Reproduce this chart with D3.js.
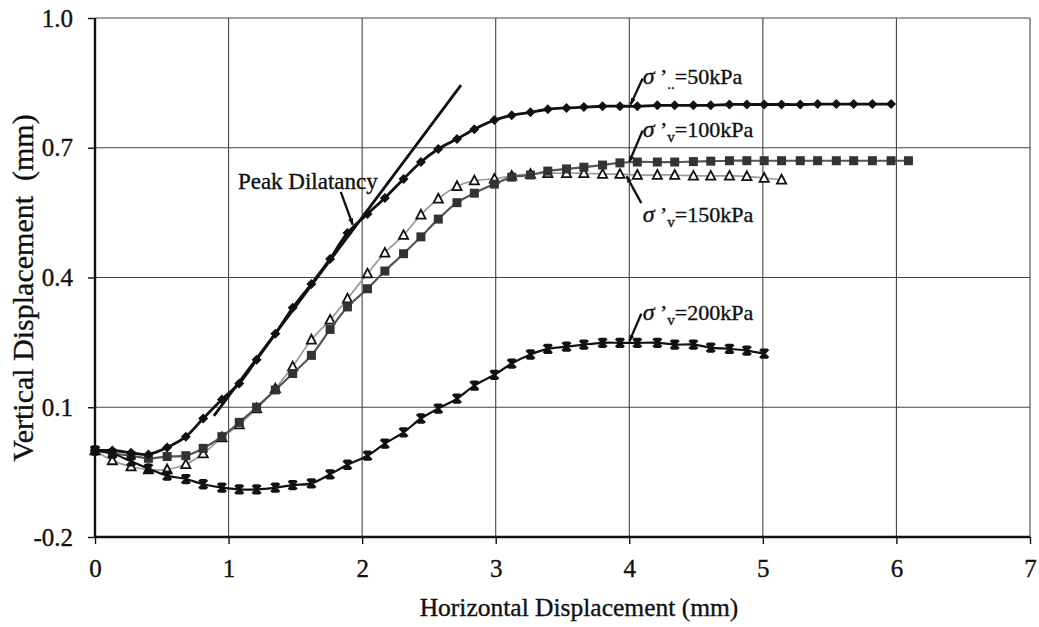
<!DOCTYPE html>
<html><head><meta charset="utf-8">
<script src="https://cdn.jsdelivr.net/npm/d3@7"></script>
<style>
body{margin:0;background:#fff}
text{font-family:"Liberation Serif","Times New Roman",serif;fill:#111;stroke:#111;stroke-width:0.35px}
</style>
</head><body>
<svg id="chart" width="1039" height="627"></svg>
<script>
// Horizontal displacement readings (mm), shared by all tests
const horizontalDisp = [0, 0.13, 0.27, 0.40, 0.54, 0.68, 0.81, 0.95, 1.08, 1.21, 1.35, 1.48, 1.62, 1.76, 1.89, 2.04,
  2.17, 2.31, 2.44, 2.57, 2.71, 2.84, 2.99, 3.12, 3.26, 3.39, 3.53, 3.66, 3.80, 3.93, 4.06, 4.21, 4.34, 4.48, 4.61,
  4.75, 4.88, 5.01, 5.14, 5.28, 5.41, 5.55, 5.68, 5.82, 5.96, 6.09];

// Vertical displacement (mm) for each normal stress
const vert50 = [0, 0, -0.005, -0.009, 0.007, 0.032, 0.074, 0.118, 0.155, 0.21, 0.27, 0.33, 0.385, 0.443, 0.503,
  0.547, 0.584, 0.628, 0.667, 0.697, 0.72, 0.743, 0.764, 0.775, 0.782, 0.789, 0.792, 0.794, 0.796, 0.796, 0.796,
  0.798, 0.798, 0.798, 0.798, 0.8, 0.8, 0.8, 0.8, 0.8, 0.801, 0.801, 0.801, 0.801, 0.801];
const vert100 = [0, -0.007, -0.012, -0.018, -0.014, -0.012, 0.005, 0.032, 0.065, 0.1, 0.14, 0.178, 0.22, 0.28,
  0.332, 0.374, 0.415, 0.455, 0.494, 0.535, 0.573, 0.595, 0.616, 0.632, 0.637, 0.646, 0.651, 0.655, 0.66, 0.665,
  0.667, 0.667, 0.667, 0.668, 0.669, 0.67, 0.67, 0.67, 0.67, 0.67, 0.67, 0.67, 0.67, 0.67, 0.67, 0.67];
const vert150 = [0, -0.023, -0.037, -0.044, -0.044, -0.032, -0.007, 0.03, 0.06, 0.097, 0.143, 0.194, 0.256, 0.302,
  0.351, 0.409, 0.457, 0.498, 0.545, 0.582, 0.611, 0.624, 0.628, 0.635, 0.639, 0.641, 0.641, 0.641, 0.639, 0.639,
  0.637, 0.637, 0.637, 0.635, 0.635, 0.635, 0.634, 0.630, 0.626];
const vert200 = [0, -0.007, -0.025, -0.042, -0.058, -0.066, -0.078, -0.086, -0.09, -0.09, -0.086, -0.08, -0.076,
  -0.055, -0.033, -0.012, 0.016, 0.042, 0.074, 0.097, 0.12, 0.15, 0.175, 0.201, 0.222, 0.235, 0.24, 0.245, 0.249,
  0.249, 0.249, 0.249, 0.245, 0.245, 0.238, 0.235, 0.231, 0.224];

const xTicks = [0, 1, 2, 3, 4, 5, 6, 7];
const yTicks = [-0.2, 0.1, 0.4, 0.7, 1.0];
const yTickLabels = ["-0.2", "0.1", "0.4", "0.7", "1.0"];

// Tangent drawn at the peak dilatancy point of the 50 kPa test
const tangentLine = [[0.89, 0.08], [2.74, 0.845]];

const svg = d3.select("#chart");
const x = d3.scaleLinear().domain([0, 7]).range([95, 1030]);
const y = d3.scaleLinear().domain([-0.2, 1.0]).range([537, 18]);

// Gridlines
const grid = svg.append("g").attr("stroke", "#444").attr("stroke-width", 1.1);
grid.selectAll("line.v").data(xTicks.slice(1)).join("line")
  .attr("x1", d => x(d)).attr("x2", d => x(d)).attr("y1", y(1.0)).attr("y2", y(-0.2));
grid.selectAll("line.h").data(yTicks.slice(1)).join("line")
  .attr("x1", x(0)).attr("x2", x(7)).attr("y1", d => y(d)).attr("y2", d => y(d));

// Axes
const xAxis = d3.axisBottom(x).tickValues(xTicks).tickSize(7).tickPadding(15).tickFormat(d3.format("d"));
const yAxis = d3.axisLeft(y).tickValues(yTicks).tickSize(7).tickPadding(15)
  .tickFormat((d, i) => yTickLabels[i]);

const gx = svg.append("g").attr("transform", `translate(0,${y(-0.2)})`).call(xAxis);
const gy = svg.append("g").attr("transform", `translate(${x(0)},0)`).call(yAxis);
[gx, gy].forEach(g => {
  g.select(".domain").attr("stroke", "#111").attr("stroke-width", 2.4);
  g.selectAll(".tick line").attr("stroke", "#111").attr("stroke-width", 1.4);
  g.selectAll(".tick text").attr("font-family", "Liberation Serif").attr("font-size", 25).attr("fill", "#111");
});
gy.select(".domain").attr("d", `M0,${y(1.0)}V${y(-0.2)}`);
gx.select(".domain").attr("d", `M${x(0)},0H${x(7)}`);

// Axis titles
svg.append("text").attr("x", 579).attr("y", 616).attr("text-anchor", "middle")
  .attr("font-size", 25.5).text("Horizontal Displacement (mm)");
svg.append("text").attr("transform", "translate(33,288) rotate(-90)").attr("text-anchor", "middle")
  .attr("font-size", 30).attr("xml:space", "preserve").text("Vertical Displacement  (mm)");

const line = d3.line().x(d => x(d[0])).y(d => y(d[1])).curve(d3.curveCatmullRom.alpha(0.5));
const pts = vals => vals.map((v, i) => [horizontalDisp[i], v]);

const series = [
  { vals: vert150, stroke: "#9a9a9a", width: 1.7, marker: "tri" },
  { vals: vert100, stroke: "#555", width: 2.2, marker: "sq" },
  { vals: vert200, stroke: "#111", width: 2.2, marker: "star" },
  { vals: vert50, stroke: "#111", width: 2.8, marker: "dia" }
];

const plot = svg.append("g");
series.forEach(s => {
  const p = pts(s.vals);
  plot.append("path").attr("d", line(p)).attr("fill", "none")
    .attr("stroke", s.stroke).attr("stroke-width", s.width);
  const g = plot.append("g");
  const m = g.selectAll("g").data(p).join("g")
    .attr("transform", d => `translate(${x(d[0])},${y(d[1])})`);
  if (s.marker === "dia") {
    m.append("path").attr("d", "M0,-5L5,0L0,5L-5,0Z").attr("fill", "#111");
  } else if (s.marker === "sq") {
    m.append("rect").attr("x", -4.5).attr("y", -4.5).attr("width", 9).attr("height", 9).attr("fill", "#333");
  } else if (s.marker === "tri") {
    m.append("path").attr("d", "M0,-5L4.6,3.8L-4.6,3.8Z").attr("fill", "#fff")
      .attr("stroke", "#111").attr("stroke-width", 1.8);
  } else {
    m.append("path").attr("d", "M-4.2,-4.2L4.2,4.2M-4.2,4.2L4.2,-4.2M0,-4.5V4.5M-3,-4H3M-3,4H3")
      .attr("stroke", "#111").attr("stroke-width", 2.3);
  }
});

// Tangent line
plot.append("line")
  .attr("x1", x(tangentLine[0][0])).attr("y1", y(tangentLine[0][1]))
  .attr("x2", x(tangentLine[1][0])).attr("y2", y(tangentLine[1][1]))
  .attr("stroke", "#111").attr("stroke-width", 2.8);

// Arrow head
svg.append("defs").append("marker").attr("id", "arrow")
  .attr("viewBox", "0 0 10 10").attr("refX", 9).attr("refY", 5)
  .attr("markerWidth", 10).attr("markerHeight", 7).attr("markerUnits", "userSpaceOnUse")
  .attr("orient", "auto")
  .append("path").attr("d", "M0,1.5L10,5L0,8.5Z").attr("fill", "#111");

const notes = [
  { text: "Peak Dilatancy", tx: 1.07, ty: 0.605, from: [1.84, 0.598], to: [1.93, 0.522], sigma: false },
  { sub: "..", val: "=50kPa", tx: 4.10, ty: 0.847, from: [4.10, 0.86], to: [4.01, 0.80], sigma: true },
  { sub: "v", val: "=100kPa", tx: 4.10, ty: 0.725, from: [4.10, 0.74], to: [4.0, 0.667], sigma: true },
  { sub: "v", val: "=150kPa", tx: 4.10, ty: 0.528, from: [4.09, 0.572], to: [3.98, 0.634], sigma: true },
  { sub: "v", val: "=200kPa", tx: 4.10, ty: 0.302, from: [4.09, 0.316], to: [4.0, 0.252], sigma: true }
];
notes.forEach(n => {
  svg.append("line")
    .attr("x1", x(n.from[0])).attr("y1", y(n.from[1]))
    .attr("x2", x(n.to[0])).attr("y2", y(n.to[1]))
    .attr("stroke", "#111").attr("stroke-width", 2.3).attr("marker-end", "url(#arrow)");
  if (!n.sigma) {
    svg.append("text").attr("x", x(n.tx)).attr("y", y(n.ty)).attr("font-size", 23).text(n.text);
    return;
  }
  const t = svg.append("text").attr("x", x(n.tx)).attr("y", y(n.ty)).attr("font-size", 22);
  t.append("tspan").attr("font-style", "italic").attr("font-size", 24).text("σ");
  t.append("tspan").text(" ’");
  t.append("tspan").attr("font-size", 15).attr("dy", 5).text(n.sub);
  t.append("tspan").attr("dy", -5).text(n.val);
});
</script>
</body></html>
